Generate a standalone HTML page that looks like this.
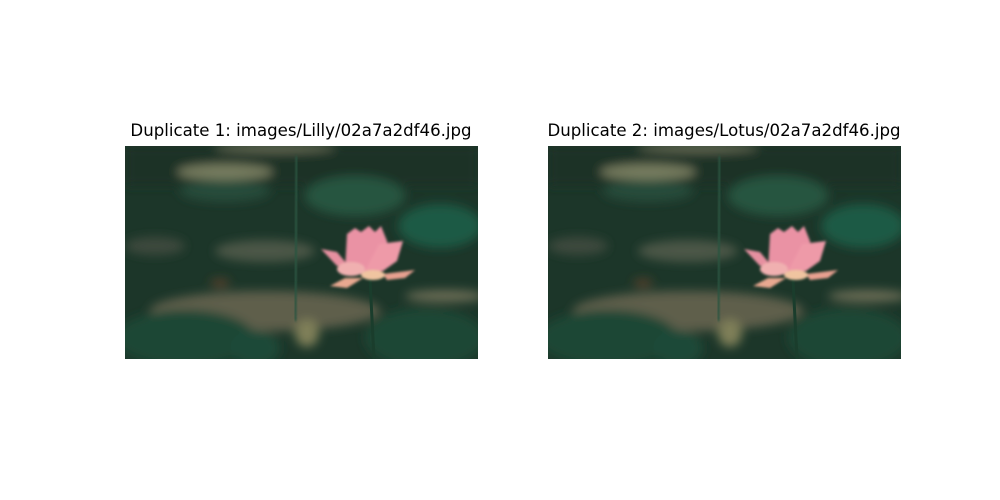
<!DOCTYPE html>
<html><head><meta charset="utf-8"><style>
body{margin:0;background:#fff;}
#fig{position:relative;width:1000px;height:500px;background:#fff;font-family:"DejaVu Sans","Liberation Sans",sans-serif;}
.title{position:absolute;top:121px;font-size:16.6px;color:#000;white-space:nowrap;transform:translateX(-50%);}
svg{position:absolute;left:0;top:0;}
</style></head><body>
<div id="fig">
<div class="title" style="left:301px">Duplicate 1: images/Lilly/02a7a2df46.jpg</div>
<div class="title" style="left:724px">Duplicate 2: images/Lotus/02a7a2df46.jpg</div>
<svg width="1000" height="500">
<defs>
<filter id="bl" x="-20%" y="-20%" width="140%" height="140%"><feGaussianBlur stdDeviation="5"/></filter>
<filter id="bs" x="-20%" y="-20%" width="140%" height="140%"><feGaussianBlur stdDeviation="1.2"/></filter>
<clipPath id="cp"><rect x="0" y="0" width="353" height="213"/></clipPath>
<g id="photo" clip-path="url(#cp)">
<rect width="353" height="213" fill="#1c3629"/>
<g filter="url(#bl)">
<rect x="0" y="0" width="353" height="40" fill="#1a3226"/>
<ellipse cx="100" cy="26" rx="48" ry="8" fill="#767b5e"/>
<ellipse cx="150" cy="2" rx="60" ry="5" fill="#5e6550"/>
<ellipse cx="230" cy="50" rx="50" ry="20" fill="#28543f"/>
<ellipse cx="100" cy="45" rx="45" ry="11" fill="#264c3a"/>
<ellipse cx="315" cy="80" rx="42" ry="22" fill="#1f5a44"/>
<ellipse cx="140" cy="105" rx="50" ry="11" fill="#4c5646"/>
<ellipse cx="30" cy="100" rx="30" ry="9" fill="#3e4a3c"/>
<ellipse cx="140" cy="165" rx="115" ry="20" fill="#5e5f4c"/>
<ellipse cx="320" cy="150" rx="40" ry="6" fill="#6a6c54"/>
<ellipse cx="60" cy="192" rx="70" ry="28" fill="#1b4636"/>
<ellipse cx="130" cy="202" rx="25" ry="18" fill="#1e4a38"/>
<ellipse cx="300" cy="192" rx="60" ry="30" fill="#1c4636"/>
<ellipse cx="182" cy="187" rx="12" ry="14" fill="#7f7f58"/>
<ellipse cx="95" cy="137" rx="10" ry="4" fill="#5a3f2a"/>
</g>
<g filter="url(#bs)">
<line x1="172" y1="10" x2="170" y2="175" stroke="#2a5440" stroke-width="3"/>
</g>
<line x1="245" y1="133" x2="249" y2="213" stroke="#1a3d2c" stroke-width="3"/>
<g filter="url(#bs)">
<polygon points="196,103 212,106 222,118 212,120" fill="#e690a0"/>
<polygon points="258,128 290,124 280,132 262,134" fill="#e8a090"/>
<polygon points="205,140 220,132 238,132 222,142" fill="#e8a890"/>
<polygon points="220,125 222,88 230,82 236,86 244,80 250,86 256,80 262,95 265,120 245,130" fill="#ea92a4"/>
<polygon points="240,125 254,98 278,95 272,115 258,125" fill="#ee9aa8"/>
<ellipse cx="226" cy="123" rx="14" ry="7" fill="#f0b0b0"/>
<ellipse cx="248" cy="129" rx="12" ry="5" fill="#f0c4a0"/>
</g>
</g>
</defs>
<use href="#photo" x="125" y="146"/>
<use href="#photo" x="548" y="146"/>
</svg>
</div>
</body></html>
